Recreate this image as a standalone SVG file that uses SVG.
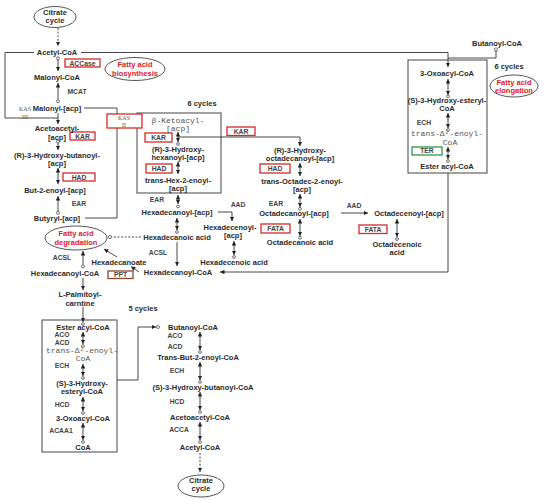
<svg xmlns="http://www.w3.org/2000/svg" width="550" height="501" viewBox="0 0 550 501">
<style>
.t{font-family:"Liberation Sans",Arial,sans-serif;font-size:7.5px;font-weight:bold;fill:#2a2a2a;text-anchor:middle}
.e{font-family:"Liberation Sans",Arial,sans-serif;font-size:6.8px;font-weight:bold;fill:#444;text-anchor:middle}
.m{font-family:"Liberation Mono","DejaVu Sans Mono",monospace;font-size:8px;fill:#555;text-anchor:middle}
.k{font-family:"Liberation Serif",serif;font-size:6px;fill:#555;text-anchor:middle}
.r{font-family:"Liberation Sans",Arial,sans-serif;font-size:7.5px;font-weight:bold;fill:#e0202a;text-anchor:middle}
.rb{fill:#fff;stroke:#d42a2a;stroke-width:1.3}
.gb{fill:#fff;stroke:#2a9a4a;stroke-width:1.3}
.bb{fill:#fff;stroke:#8b4a2b;stroke-width:1.3}
.c{fill:none;stroke:#333;stroke-width:0.9}
.d{stroke-dasharray:2,1.6}
.o{fill:#fff;stroke:#333;stroke-width:0.7}
.bx{fill:none;stroke:#555;stroke-width:1.1}
.el{fill:#fff;stroke:#555;stroke-width:1}
</style>
<defs>
<marker id="ah" viewBox="0 0 6 6" refX="6" refY="3" markerWidth="4.5" markerHeight="4.5" markerUnits="userSpaceOnUse" orient="auto-start-reverse">
<path d="M0,0 L6,3 L0,6 z" fill="#222"/>
</marker>
</defs>
<rect width="550" height="501" fill="#fff"/>

<!-- boxes -->
<g id="cycle-box-hexanoyl"><rect class="bx" x="137" y="113" width="84" height="80"/><text class="t" x="202" y="105.7">6 cycles</text></g>
<g id="cycle-box-elongation"><rect class="bx" x="408" y="60" width="79" height="113"/><text class="t" x="509" y="68.7">6 cycles</text></g>
<g id="cycle-box-degradation"><rect class="bx" x="42" y="320" width="75" height="132"/><text class="t" x="143" y="310.7">5 cycles</text></g>

<g id="connectors">
<path class="c d" d="M58,28 V46" marker-end="url(#ah)"/>
<path class="c" d="M58,60 V71" marker-end="url(#ah)"/><circle class="o" cx="58" cy="58.3" r="1.5"/>
<path class="c" d="M58,99.5 V83" marker-end="url(#ah)"/><circle class="o" cx="58" cy="101.3" r="1.5"/>
<path class="c" d="M34,52.5 H5 V118 H58"/>
<path class="c" d="M58,113 V124" marker-end="url(#ah)"/>
<path class="c" d="M84,108 H117 V218 H85"/>
<path class="c" d="M58,143 V150" marker-end="url(#ah)"/><circle class="o" cx="58" cy="141.5" r="1.5"/>
<path class="c" d="M58,168 V184" marker-start="url(#ah)" marker-end="url(#ah)"/>
<path class="c" d="M58,196 V211" marker-start="url(#ah)"/><circle class="o" cx="58" cy="212.8" r="1.5"/>
<path class="c" d="M81,52.5 H448 V67" marker-end="url(#ah)"/>
<path class="c" d="M496,51 V58 H448"/><circle class="o" cx="496" cy="49.5" r="1.6"/>
<path class="c" d="M448,79 V95" marker-start="url(#ah)" marker-end="url(#ah)"/><circle class="o" cx="448" cy="96.5" r="1.4"/>
<path class="c" d="M448,113 V128" marker-start="url(#ah)" marker-end="url(#ah)"/><circle class="o" cx="448" cy="130" r="1.4"/>
<path class="c" d="M448,147 V159" marker-start="url(#ah)" marker-end="url(#ah)"/><circle class="o" cx="448" cy="161" r="1.4"/>
<path class="c" d="M178,132 V142" marker-start="url(#ah)" marker-end="url(#ah)"/><circle class="o" cx="178" cy="144" r="1.4"/>
<path class="c" d="M178,162 V174" marker-start="url(#ah)" marker-end="url(#ah)"/>
<path class="c" d="M178,195 V204" marker-start="url(#ah)" marker-end="url(#ah)"/><circle class="o" cx="178" cy="206.5" r="1.4"/>
<path class="c" d="M178,137 H300 V146" marker-end="url(#ah)"/>
<path class="c" d="M300,163 V176" marker-start="url(#ah)" marker-end="url(#ah)"/>
<path class="c" d="M300,194 V207" marker-start="url(#ah)" marker-end="url(#ah)"/><circle class="o" cx="300" cy="208.8" r="1.4"/>
<path class="c" d="M341,213 H368" marker-end="url(#ah)"/>
<path class="c" d="M300,219 V236" marker-start="url(#ah)" marker-end="url(#ah)"/><circle class="o" cx="300" cy="237.8" r="1.4"/>
<path class="c" d="M397,219 V237" marker-start="url(#ah)" marker-end="url(#ah)"/><circle class="o" cx="397" cy="239" r="1.4"/>
<path class="c" d="M218,212 H232 V221" marker-end="url(#ah)"/>
<path class="c" d="M234,241 V255" marker-start="url(#ah)" marker-end="url(#ah)"/><circle class="o" cx="234" cy="257" r="1.4"/>
<path class="c" d="M177,218 V230" marker-start="url(#ah)" marker-end="url(#ah)"/><circle class="o" cx="177" cy="232" r="1.4"/>
<path class="c" d="M177,242 V266" marker-end="url(#ah)"/>
<path class="c" d="M448,173 V272 H220" marker-end="url(#ah)"/>
<path class="c d" d="M141,237 H112"/><circle class="o" cx="110" cy="237" r="1.6"/>
<path class="c" d="M117,257 L104,249" marker-end="url(#ah)"/>
<path class="c" d="M139,272 L131,266.5" marker-end="url(#ah)"/>
<path class="c" d="M83,264.5 V251" marker-end="url(#ah)"/><circle class="o" cx="83" cy="266.3" r="1.5"/>
<path class="c" d="M83,278 V290" marker-end="url(#ah)"/>
<path class="c" d="M83,307 V322" marker-end="url(#ah)"/><circle class="o" cx="83" cy="324" r="1.4"/>
<path class="c" d="M83,332 V344" marker-start="url(#ah)" marker-end="url(#ah)"/><circle class="o" cx="83" cy="346" r="1.4"/>
<path class="c" d="M83,364 V376" marker-start="url(#ah)" marker-end="url(#ah)"/><circle class="o" cx="83" cy="378" r="1.4"/>
<path class="c" d="M83,397 V411" marker-start="url(#ah)" marker-end="url(#ah)"/><circle class="o" cx="83" cy="413" r="1.4"/>
<path class="c" d="M83,423 V440" marker-start="url(#ah)" marker-end="url(#ah)"/><circle class="o" cx="83" cy="442" r="1.4"/>
<path class="c" d="M117,380 H138 V327 H156" marker-end="url(#ah)"/><circle class="o" cx="158" cy="327" r="1.5"/>
<path class="c" d="M200,332 V350" marker-start="url(#ah)" marker-end="url(#ah)"/><circle class="o" cx="200" cy="352" r="1.4"/>
<path class="c" d="M200,362 V380" marker-start="url(#ah)" marker-end="url(#ah)"/><circle class="o" cx="200" cy="382" r="1.4"/>
<path class="c" d="M200,392 V410" marker-start="url(#ah)" marker-end="url(#ah)"/><circle class="o" cx="200" cy="412" r="1.4"/>
<path class="c" d="M200,422 V440" marker-start="url(#ah)" marker-end="url(#ah)"/><circle class="o" cx="200" cy="442" r="1.4"/>
<path class="c d" d="M200,453 V472" marker-end="url(#ah)"/>
</g>

<!-- ellipses -->
<g id="citrate-cycle-top"><ellipse class="el" cx="55" cy="17" rx="21" ry="10.5"/><text class="t" x="55" y="15">Citrate</text><text class="t" x="55" y="22.7">cycle</text></g>
<g id="fa-biosynthesis"><ellipse class="el" cx="135" cy="69" rx="30" ry="11.5"/><text class="r" x="135" y="66.5">Fatty acid</text><text class="r" x="135" y="75.5">biosynthesis</text></g>
<g id="fa-elongation"><ellipse class="el" cx="514" cy="86" rx="24" ry="11"/><text class="r" x="514" y="84.5">Fatty acid</text><text class="r" x="514" y="92.5">elongation</text></g>
<g id="fa-degradation"><ellipse class="el" cx="76" cy="238" rx="31" ry="12"/><text class="r" x="76" y="235.5">Fatty acid</text><text class="r" x="76" y="244.5">degradation</text></g>
<g id="citrate-cycle-bottom"><ellipse class="el" cx="201" cy="486" rx="23" ry="11"/><text class="t" x="201" y="483">Citrate</text><text class="t" x="201" y="491">cycle</text></g>

<!-- enzyme boxes -->
<g id="enz-accase"><rect class="rb" x="65" y="59" width="35" height="8"/><text class="e" x="82.5" y="65.5">ACCase</text></g>
<g id="enz-kas2"><rect class="rb" x="107" y="114" width="35" height="14"/><text class="k" x="124" y="119.5">KAS</text><text class="k" x="124" y="126.5">II</text></g>
<g id="enz-kar1"><rect class="rb" x="70" y="132" width="25" height="8"/><text class="e" x="82.5" y="138.5">KAR</text></g>
<g id="enz-had1"><rect class="rb" x="63" y="173" width="32" height="8"/><text class="e" x="79" y="179.5">HAD</text></g>
<g id="enz-kar2"><rect class="rb" x="145" y="133" width="27" height="9"/><text class="e" x="158.5" y="140">KAR</text></g>
<g id="enz-had2"><rect class="rb" x="146" y="164" width="26" height="9"/><text class="e" x="159" y="171">HAD</text></g>
<g id="enz-kar3"><rect class="rb" x="227" y="127" width="28" height="8.5"/><text class="e" x="241" y="133.8">KAR</text></g>
<g id="enz-had3"><rect class="rb" x="260" y="164" width="30" height="9"/><text class="e" x="275" y="171">HAD</text></g>
<g id="enz-fata1"><rect class="rb" x="261" y="224" width="29" height="9"/><text class="e" x="275.5" y="231">FATA</text></g>
<g id="enz-fata2"><rect class="rb" x="359" y="225" width="28" height="8.5"/><text class="e" x="373" y="231.5">FATA</text></g>
<g id="enz-ter"><rect class="gb" x="412" y="147" width="30" height="8"/><text class="e" x="427" y="153.3">TER</text></g>
<g id="enz-ppt"><rect class="bb" x="108" y="271" width="25" height="7.5"/><text class="e" x="120.5" y="277.2">PPT</text></g>

<!-- enzyme labels -->
<g id="labels">
<text class="e" x="77" y="93.5">MCAT</text>
<text class="k" x="25" y="111">KAS</text><text class="k" x="25" y="119">III</text>
<text class="e" x="79" y="205.5">EAR</text>
<text class="e" x="157" y="201.5">EAR</text>
<text class="e" x="276" y="205.5">EAR</text>
<text class="e" x="238" y="206.5">AAD</text>
<text class="e" x="354" y="207.5">AAD</text>
<text class="e" x="158" y="254.5">ACSL</text>
<text class="e" x="62" y="259.5">ACSL</text>
<text class="e" x="424" y="124.5">ECH</text>
<text class="e" x="62" y="337">ACO</text><text class="e" x="62" y="345">ACD</text>
<text class="e" x="62" y="367.5">ECH</text>
<text class="e" x="62" y="406.5">HCD</text>
<text class="e" x="61" y="432.5">ACAA1</text>
<text class="e" x="175" y="337.5">ACO</text><text class="e" x="175" y="348.5">ACD</text>
<text class="e" x="177" y="372.5">ECH</text>
<text class="e" x="177" y="403.5">HCD</text>
<text class="e" x="179" y="431.5">ACCA</text>
</g>

<!-- metabolite nodes -->
<g id="acetyl-coa-1"><text class="t" x="57" y="55">Acetyl-CoA</text></g>
<g id="malonyl-coa"><text class="t" x="57" y="79.7">Malonyl-CoA</text></g>
<g id="malonyl-acp"><text class="t" x="57" y="110.7">Malonyl-[acp]</text></g>
<g id="acetoacetyl-acp"><text class="t" x="57" y="130.7">Acetoacetyl-</text><text class="t" x="57" y="139.7">[acp]</text></g>
<g id="r3-hydroxybutanoyl-acp"><text class="t" x="57" y="157.7">(R)-3-Hydroxy-butanoyl-</text><text class="t" x="57" y="165.7">[acp]</text></g>
<g id="but2enoyl-acp"><text class="t" x="55" y="192.7">But-2-enoyl-[acp]</text></g>
<g id="butyryl-acp"><text class="t" x="57" y="220.7">Butyryl-[acp]</text></g>
<g id="beta-ketoacyl-acp"><text class="m" x="178" y="122.5" font-size="7.6">β-Ketoacyl-</text><text class="m" x="178" y="130.5" font-size="7.6">[acp]</text></g>
<g id="r3-hydroxyhexanoyl-acp"><text class="t" x="178" y="151.7">(R)-3-Hydroxy-</text><text class="t" x="178" y="159.7">hexanoyl-[acp]</text></g>
<g id="trans-hex2enoyl-acp"><text class="t" x="178" y="182.5">trans-Hex-2-enoyl-</text><text class="t" x="178" y="190.7">[acp]</text></g>
<g id="hexadecanoyl-acp"><text class="t" x="177" y="214.7">Hexadecanoyl-[acp]</text></g>
<g id="hexadecenoyl-acp"><text class="t" x="230" y="229.7">Hexadecenoyl-</text><text class="t" x="233" y="237.7">[acp]</text></g>
<g id="hexadecanoic-acid"><text class="t" x="177" y="239.7">Hexadecanoic acid</text></g>
<g id="hexadecenoic-acid"><text class="t" x="234" y="264.7">Hexadecenoic acid</text></g>
<g id="hexadecanoyl-coa-2"><text class="t" x="178" y="274.7">Hexadecanoyl-CoA</text></g>
<g id="r3-hydroxyoctadecanoyl-acp"><text class="t" x="300" y="152.7">(R)-3-Hydroxy-</text><text class="t" x="300" y="160.7">octadecanoyl-[acp]</text></g>
<g id="trans-octadec2enoyl-acp"><text class="t" x="302" y="183.7">trans-Octadec-2-enoyl-</text><text class="t" x="302" y="191.7">[acp]</text></g>
<g id="octadecanoyl-acp"><text class="t" x="294" y="215.7">Octadecanoyl-[acp]</text></g>
<g id="octadecenoyl-acp"><text class="t" x="409" y="215.7">Octadecenoyl-[acp]</text></g>
<g id="octadecanoic-acid"><text class="t" x="300" y="244.7">Octadecanoic acid</text></g>
<g id="octadecenoic-acid"><text class="t" x="397" y="246.7">Octadecenoic</text><text class="t" x="397" y="254.7">acid</text></g>
<g id="butanoyl-coa-top"><text class="t" x="497" y="45.7">Butanoyl-CoA</text></g>
<g id="oxoacyl-coa-top"><text class="t" x="447" y="75.7">3-Oxoacyl-CoA</text></g>
<g id="s3-hydroxyesteryl-coa-top"><text class="t" x="447" y="102.7">(S)-3-Hydroxy-esteryl-</text><text class="t" x="447" y="110.7">CoA</text></g>
<g id="trans-enoyl-coa-top"><text class="m" x="447" y="135.5" font-size="8.8">trans-Δ²-enoyl-</text><text class="m" x="450" y="144.5">CoA</text></g>
<g id="ester-acyl-coa-top"><text class="t" x="447" y="168.7">Ester acyl-CoA</text></g>
<g id="hexadecanoate"><text class="t" x="119" y="264.7">Hexadecanoate</text></g>
<g id="hexadecanoyl-coa-1"><text class="t" x="65" y="275.7">Hexadecanoyl-CoA</text></g>
<g id="l-palmitoyl-carnitine"><text class="t" x="80" y="297.3">L-Palmitoyl-</text><text class="t" x="80" y="305.5">carntine</text></g>
<g id="ester-acyl-coa-bottom"><text class="t" x="83" y="329.7">Ester acyl-CoA</text></g>
<g id="trans-enoyl-coa-bottom"><text class="m" x="82" y="352.5" font-size="8.4">trans-Δ²-enoyl-</text><text class="m" x="83" y="361">CoA</text></g>
<g id="s3-hydroxyesteryl-coa-bottom"><text class="t" x="82" y="385.7">(S)-3-Hydroxy-</text><text class="t" x="82" y="393.7">esteryl-CoA</text></g>
<g id="oxoacyl-coa-bottom"><text class="t" x="83" y="420.7">3-Oxoacyl-CoA</text></g>
<g id="coa"><text class="t" x="83" y="449.7">CoA</text></g>
<g id="butanoyl-coa-bottom"><text class="t" x="193" y="329.7">Butanoyl-CoA</text></g>
<g id="trans-but2enoyl-coa"><text class="t" x="198" y="359.7">Trans-But-2-enoyl-CoA</text></g>
<g id="s3-hydroxybutanoyl-coa"><text class="t" x="203" y="389.7">(S)-3-Hydroxy-butanoyl-CoA</text></g>
<g id="acetoacetyl-coa"><text class="t" x="200" y="419.7">Acetoacetyl-CoA</text></g>
<g id="acetyl-coa-2"><text class="t" x="200" y="449.7">Acetyl-CoA</text></g>
</svg>
